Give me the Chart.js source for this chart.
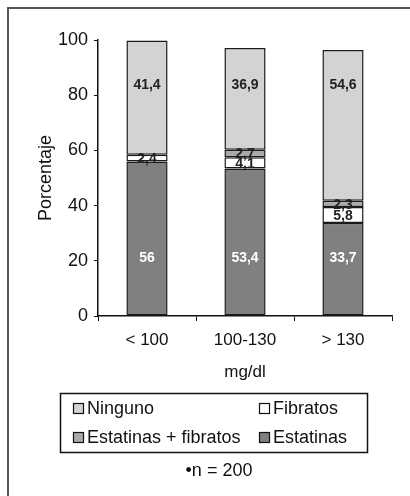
<!DOCTYPE html>
<html>
<head>
<meta charset="utf-8">
<script src="https://cdn.jsdelivr.net/npm/chart.js@4"></script>
<style>
  html, body { margin: 0; padding: 0; background: #fff; }
  #wrap { position: relative; width: 410px; height: 496px; overflow: hidden; }
  #frame { position: absolute; left: 7px; top: 7px; width: 420px; height: 500px;
           border-left: 2px solid #555; border-top: 2px solid #555; }
  canvas { position: absolute; left: 0; top: 0; }
</style>
</head>
<body>
<div id="wrap">
  <div id="frame"></div>
  <canvas id="myChart" width="410" height="496"></canvas>
</div>
<script>
// categories (LDL groups) and series values in %
const categories = ['< 100', '100-130', '> 130'];
const estatinas = [56, 53.4, 33.7];
const fibratos = [2.4, 4.1, 5.8];
const estatinasFibratos = [null, 2.7, 2.3];
const ninguno = [41.4, 36.9, 54.6];
const yTicks = [0, 20, 40, 60, 80, 100];
const footnote = '\u2022n = 200';

const FONT = "'Liberation Sans', Arial, sans-serif";

// draws the number inside every bar segment
const valueLabels = {
  id: 'valueLabels',
  afterDatasetsDraw(chart) {
    const ctx = chart.ctx;
    const y = chart.scales.y;
    ctx.save();
    ctx.font = 'bold 14px ' + FONT;
    ctx.textAlign = 'center';
    ctx.textBaseline = 'middle';
    chart.data.datasets.forEach((ds, i) => {
      const meta = chart.getDatasetMeta(i);
      meta.data.forEach((bar, j) => {
        const v = ds.data[j];
        if (v == null) return;
        let py = (bar.y + bar.base) / 2;
        if (ds.labelAt != null) py = y.getPixelForValue(ds.labelAt);
        ctx.fillStyle = ds.labelColor;
        ctx.fillText(String(v).replace('.', ','), bar.x, py + 1);
      });
    });
    ctx.restore();
  }
};

// boxed legend in two columns + footnote
const boxLegend = {
  id: 'boxLegend',
  afterDraw(chart) {
    const ctx = chart.ctx;
    const ds = chart.data.datasets.slice().reverse(); // Ninguno, E+F, Fibratos, Estatinas
    ctx.save();
    ctx.strokeStyle = '#111';
    ctx.lineWidth = 1.5;
    ctx.strokeRect(60.5, 393.5, 307, 59);
    const cols = [73, 259];
    const rows = [408, 437];
    ctx.font = '18px ' + FONT;
    ctx.textBaseline = 'middle';
    ctx.textAlign = 'left';
    ds.forEach((d, k) => {
      const cx = cols[Math.floor(k / 2)];
      const cy = rows[k % 2];
      ctx.fillStyle = d.backgroundColor;
      ctx.fillRect(cx, cy - 5, 11, 11);
      ctx.lineWidth = 1.2;
      ctx.strokeStyle = '#111';
      ctx.strokeRect(cx + 0.5, cy - 4.5, 10, 10);
      ctx.fillStyle = '#111';
      ctx.fillText(d.label, cx + 14, cy + 1);
    });
    ctx.textAlign = 'center';
    ctx.fillText(footnote, 219, 471);
    ctx.restore();
  }
};

const ctx = document.getElementById('myChart').getContext('2d');
new Chart(ctx, {
  type: 'bar',
  data: {
    labels: categories,
    datasets: [
      { label: 'Estatinas', data: estatinas, backgroundColor: '#808080', labelColor: '#fff', labelAt: 21.5 },
      { label: 'Fibratos', data: fibratos, backgroundColor: '#ffffff', labelColor: '#222' },
      { label: 'Estatinas + fibratos', data: estatinasFibratos, backgroundColor: '#a9a9a9', labelColor: '#222' },
      { label: 'Ninguno', data: ninguno, backgroundColor: '#d3d3d3', labelColor: '#222', labelAt: 84 }
    ].map(d => Object.assign(d, {
      borderColor: '#1a1a1a',
      borderWidth: 1.5,
      borderSkipped: false,
      categoryPercentage: 1,
      barPercentage: 0.42
    }))
  },
  options: {
    responsive: false,
    animation: false,
    layout: { padding: { left: 8, right: 18, top: 40, bottom: 110 } },
    plugins: {
      legend: { display: false },
      tooltip: { enabled: false }
    },
    scales: {
      x: {
        stacked: true,
        afterFit: s => { s.height = 70; },
        border: { display: true, color: '#111', width: 1.5 },
        grid: { drawOnChartArea: false, drawTicks: true, tickLength: 5, color: '#111', offset: true },
        ticks: { color: '#111', font: { family: FONT, size: 17 }, padding: 9 },
        title: { display: true, text: 'mg/dl', color: '#111', font: { family: FONT, size: 17 }, padding: { top: 3, bottom: 3 } }
      },
      y: {
        stacked: true,
        min: 0,
        max: 100,
        afterFit: s => { s.width = 90; },
        afterBuildTicks: s => { s.ticks = yTicks.map(v => ({ value: v })); },
        border: { display: true, color: '#111', width: 1.5 },
        grid: { drawOnChartArea: false, drawTicks: true, tickLength: 4, color: '#111' },
        ticks: { color: '#111', font: { family: FONT, size: 18 }, padding: 6 },
        title: { display: true, text: 'Porcentaje', color: '#111', font: { family: FONT, size: 18 }, padding: { top: 27, bottom: 0 } }
      }
    }
  },
  plugins: [valueLabels, boxLegend]
});
</script>
</body>
</html>
